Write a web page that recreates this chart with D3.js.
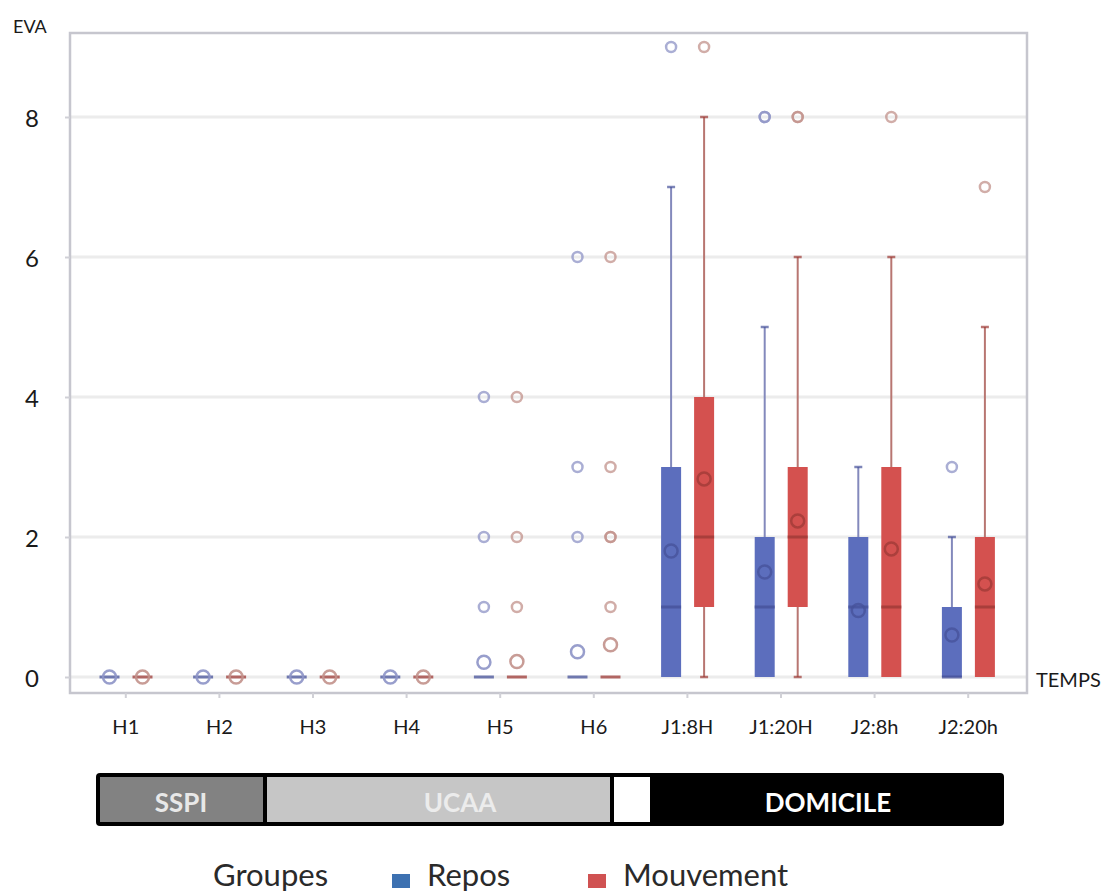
<!DOCTYPE html>
<html>
<head>
<meta charset="utf-8">
<script src="https://cdn.jsdelivr.net/npm/d3@7"></script>
<style>
  body { margin: 0; background: #fff; }
  svg { font-family: Lato, "Open Sans", sans-serif; }
</style>
</head>
<body>
<div class="chart"></div>
<script>
// categories and groups
var categories = ["H1", "H2", "H3", "H4", "H5", "H6", "J1:8H", "J1:20H", "J2:8h", "J2:20h"];
var groups = ["Repos", "Mouvement"];
var yTicks = [0, 2, 4, 6, 8];
var phases = ["SSPI", "UCAA", "", "DOMICILE"];

// Repos (rest)
var reposQ1 = [0, 0, 0, 0, 0, 0, 0, 0, 0, 0];
var reposMedian = [0, 0, 0, 0, 0, 0, 1, 1, 1, 0];
var reposQ3 = [0, 0, 0, 0, 0, 0, 3, 2, 2, 1];
var reposLow = [0, 0, 0, 0, 0, 0, 0, 0, 0, 0];
var reposHigh = [0, 0, 0, 0, 0, 0, 7, 5, 3, 2];
var reposMean = [0, 0, 0, 0, 0.21, 0.36, 1.8, 1.5, 0.95, 0.6];
var reposOutliers = [[], [], [], [], [1, 2, 4], [2, 3, 6], [9], [8, 8], [], [3]];

// Mouvement (movement)
var mvtQ1 = [0, 0, 0, 0, 0, 0, 1, 1, 0, 0];
var mvtMedian = [0, 0, 0, 0, 0, 0, 2, 2, 1, 1];
var mvtQ3 = [0, 0, 0, 0, 0, 0, 4, 3, 3, 2];
var mvtLow = [0, 0, 0, 0, 0, 0, 0, 0, 0, 0];
var mvtHigh = [0, 0, 0, 0, 0, 0, 8, 6, 6, 5];
var mvtMean = [0, 0, 0, 0, 0.22, 0.46, 2.83, 2.23, 1.83, 1.33];
var mvtOutliers = [[], [], [], [], [1, 2, 4], [1, 2, 2, 3, 6], [9], [8, 8], [8], [7]];

var width = 1107, height = 892;

var svg = d3.select(".chart").append("svg")
    .attr("width", width)
    .attr("height", height);

// styles per group
var boxFill = {Repos: "#5c6ebd", Mouvement: "#d4514f"};
var dark = {Repos: "#46519a", Mouvement: "#9e3a36"};
var whisk = {Repos: "#8389bc", Mouvement: "#b87671"};
var outl = {Repos: "#8d93c6", Mouvement: "#c2918b"};
var legendFill = {Repos: "#3d71b1", Mouvement: "#d05252"};

// build box table from the arrays
var boxes = [];
categories.forEach(function(c, i) {
  boxes.push({cat: c, grp: "Repos", q1: reposQ1[i], med: reposMedian[i], q3: reposQ3[i],
              lo: reposLow[i], hi: reposHigh[i], mean: reposMean[i], out: reposOutliers[i]});
  boxes.push({cat: c, grp: "Mouvement", q1: mvtQ1[i], med: mvtMedian[i], q3: mvtQ3[i],
              lo: mvtLow[i], hi: mvtHigh[i], mean: mvtMean[i], out: mvtOutliers[i]});
});

// scales
var y = d3.scaleLinear().domain([0, 9.2]).range([677, 33]);
var x = d3.scaleBand().domain(categories).range([79, 1015]);
var xSub = d3.scaleBand().domain(groups).range([14, 80]);
var boxW = 20;
function cx(d) { return x(d.cat) + xSub(d.grp) + xSub.bandwidth() / 2; }

var frame = {left: 70, right: 1027, top: 33, bottom: 693};

// gridlines
svg.append("g").selectAll("line")
    .data(yTicks)
    .enter().append("line")
    .attr("x1", frame.left).attr("x2", frame.right)
    .attr("y1", function(d) { return y(d); })
    .attr("y2", function(d) { return y(d); })
    .attr("stroke", "#ececec")
    .attr("stroke-width", 3);

// frame
svg.append("rect")
    .attr("x", frame.left).attr("y", frame.top)
    .attr("width", frame.right - frame.left)
    .attr("height", frame.bottom - frame.top)
    .attr("fill", "none")
    .attr("stroke", "#c6c6ce")
    .attr("stroke-width", 2.5);

// y axis
var yAxis = svg.append("g")
    .attr("transform", "translate(" + frame.left + ",0)")
    .call(d3.axisLeft(y).tickValues(yTicks).tickSize(5).tickPadding(26));
yAxis.select(".domain").remove();
yAxis.selectAll(".tick line").attr("stroke", "#d0d0d6").attr("stroke-width", 2);
yAxis.selectAll(".tick text")
    .attr("font-size", 24)
    .attr("font-family", "Lato, sans-serif")
    .attr("fill", "#1a1a1a")
    .attr("dy", "0.4em");

// x axis
var xAxis = svg.append("g")
    .attr("transform", "translate(0," + frame.bottom + ")")
    .call(d3.axisBottom(x).tickSize(5).tickPadding(22));
xAxis.select(".domain").remove();
xAxis.selectAll(".tick line").attr("stroke", "#d0d0d6").attr("stroke-width", 2);
xAxis.selectAll(".tick text")
    .attr("font-size", 20)
    .attr("font-family", "Lato, sans-serif")
    .attr("fill", "#1a1a1a");

// axis titles
svg.append("text").attr("x", 13).attr("y", 33)
    .attr("font-size", 18).attr("fill", "#1a1a1a").text("EVA");
svg.append("text").attr("x", 1036).attr("y", 687)
    .attr("font-size", 20).attr("fill", "#1a1a1a").text("TEMPS");

// box plots
var g = svg.append("g");

// whiskers
g.selectAll(".wh-up")
    .data(boxes.filter(function(d) { return d.hi > d.q3; }))
    .enter().append("line")
    .attr("x1", cx).attr("x2", cx)
    .attr("y1", function(d) { return y(d.q3); })
    .attr("y2", function(d) { return y(d.hi); })
    .attr("stroke", function(d) { return whisk[d.grp]; })
    .attr("stroke-width", 2);
g.selectAll(".cap-up")
    .data(boxes.filter(function(d) { return d.hi > d.q3; }))
    .enter().append("line")
    .attr("x1", function(d) { return cx(d) - 4; })
    .attr("x2", function(d) { return cx(d) + 4; })
    .attr("y1", function(d) { return y(d.hi); })
    .attr("y2", function(d) { return y(d.hi); })
    .attr("stroke", function(d) { return dark[d.grp]; })
    .attr("stroke-opacity", 0.7)
    .attr("stroke-width", 2.5);
g.selectAll(".wh-lo")
    .data(boxes.filter(function(d) { return d.lo < d.q1; }))
    .enter().append("line")
    .attr("x1", cx).attr("x2", cx)
    .attr("y1", function(d) { return y(d.q1); })
    .attr("y2", function(d) { return y(d.lo); })
    .attr("stroke", function(d) { return whisk[d.grp]; })
    .attr("stroke-width", 2);
g.selectAll(".cap-lo")
    .data(boxes.filter(function(d) { return d.lo < d.q1; }))
    .enter().append("line")
    .attr("x1", function(d) { return cx(d) - 4; })
    .attr("x2", function(d) { return cx(d) + 4; })
    .attr("y1", function(d) { return y(d.lo); })
    .attr("y2", function(d) { return y(d.lo); })
    .attr("stroke", function(d) { return dark[d.grp]; })
    .attr("stroke-opacity", 0.7)
    .attr("stroke-width", 2.5);

// boxes
g.selectAll(".box")
    .data(boxes.filter(function(d) { return d.q3 > d.q1; }))
    .enter().append("rect")
    .attr("x", function(d) { return cx(d) - boxW / 2; })
    .attr("y", function(d) { return y(d.q3); })
    .attr("width", boxW)
    .attr("height", function(d) { return y(d.q1) - y(d.q3); })
    .attr("fill", function(d) { return boxFill[d.grp]; });

// medians
g.selectAll(".med")
    .data(boxes)
    .enter().append("line")
    .attr("x1", function(d) { return cx(d) - boxW / 2; })
    .attr("x2", function(d) { return cx(d) + boxW / 2; })
    .attr("y1", function(d) { return y(d.med); })
    .attr("y2", function(d) { return y(d.med); })
    .attr("stroke", function(d) { return dark[d.grp]; })
    .attr("stroke-opacity", function(d) { return d.q3 > d.q1 ? 0.8 : 0.75; })
    .attr("stroke-width", 3);

// means
g.selectAll(".mean")
    .data(boxes)
    .enter().append("circle")
    .attr("cx", cx)
    .attr("cy", function(d) { return y(d.mean); })
    .attr("r", 6.5)
    .attr("fill", "none")
    .attr("stroke", function(d) { return d.q3 > d.q1 ? dark[d.grp] : outl[d.grp]; })
    .attr("stroke-opacity", function(d) { return d.q3 > d.q1 ? 0.75 : 0.9; })
    .attr("stroke-width", 2.5);

// outliers
var outPts = [];
boxes.forEach(function(d) {
  d.out.forEach(function(v) { outPts.push({cat: d.cat, grp: d.grp, v: v}); });
});
g.selectAll(".out")
    .data(outPts)
    .enter().append("circle")
    .attr("cx", cx)
    .attr("cy", function(d) { return y(d.v); })
    .attr("r", 5)
    .attr("fill", "none")
    .attr("stroke", function(d) { return outl[d.grp]; })
    .attr("stroke-opacity", 0.75)
    .attr("stroke-width", 2.5);

// phase bar under the axis
var bar = {left: 96, right: 1004, top: 773, bottom: 826};
var segX = [bar.left, 265, 612, 652, bar.right];
var segFill = ["#828282", "#c6c6c6", "#ffffff", "#000000"];
var segText = ["#e8e8e8", "#ececec", "#fff", "#ffffff"];
var barG = svg.append("g");
barG.append("rect")
    .attr("x", bar.left).attr("y", bar.top)
    .attr("width", bar.right - bar.left)
    .attr("height", bar.bottom - bar.top)
    .attr("rx", 4)
    .attr("fill", "#000");
phases.forEach(function(p, i) {
  var x0 = segX[i] + (i === 0 ? 4 : 2), x1 = segX[i + 1] - (i === phases.length - 1 ? 4 : 2);
  if (i < 3) {
    barG.append("rect")
        .attr("x", x0).attr("y", bar.top + 4)
        .attr("width", x1 - x0)
        .attr("height", bar.bottom - bar.top - 8)
        .attr("fill", segFill[i]);
  }
});
var labelX = [181, 460, 632, 828];
phases.forEach(function(p, i) {
  if (!p) return;
  barG.append("text")
      .attr("x", labelX[i]).attr("y", 812)
      .attr("text-anchor", "middle")
      .attr("font-size", 26)
      .attr("font-weight", "bold")
      .attr("fill", segText[i])
      .text(p);
});

// legend
var leg = svg.append("g");
leg.append("text").attr("x", 213).attr("y", 886)
    .attr("font-size", 31).attr("fill", "#2a2a2a").text("Groupes");
var legX = [392, 588];
groups.forEach(function(gname, i) {
  leg.append("rect")
      .attr("x", legX[i]).attr("y", 874)
      .attr("width", 18).attr("height", 14)
      .attr("fill", legendFill[gname]);
  leg.append("text")
      .attr("x", legX[i] + 35).attr("y", 886)
      .attr("font-size", 31).attr("fill", "#2a2a2a").text(gname);
});
</script>
</body>
</html>
